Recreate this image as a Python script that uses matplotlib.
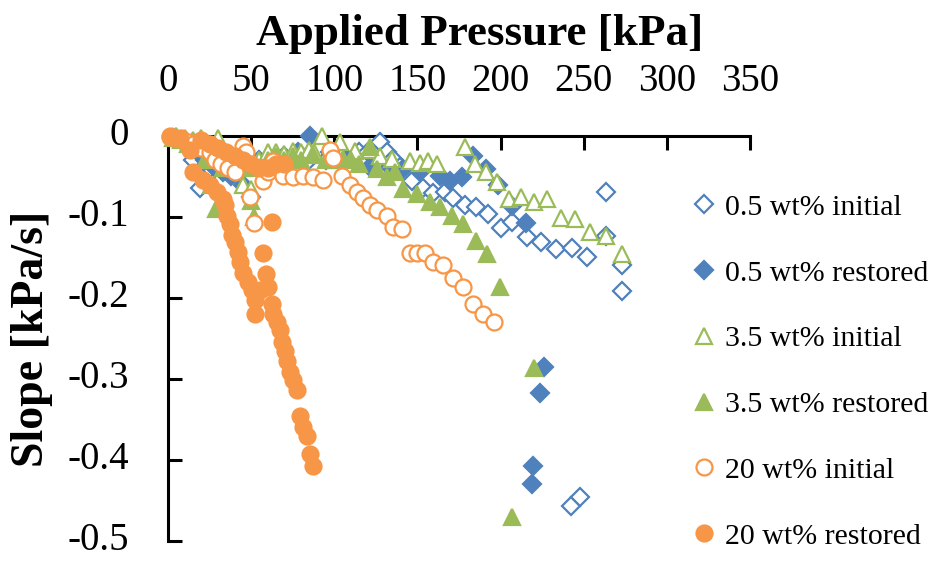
import numpy as np
import matplotlib
matplotlib.use('Agg')
import matplotlib.pyplot as plt

plt.rcParams['font.family'] = ['Liberation Serif', 'DejaVu Serif']
plt.rcParams['axes.unicode_minus'] = False

# ---- data (pressure kPa, slope kPa/s) ----
p05_init_x = [5, 10, 15, 19, 25, 35, 45, 55, 65, 75, 85, 95, 105, 115, 120,
              127.3, 131.5, 135.1, 139.3, 146.5, 153.1, 159.1, 166.3, 171.1, 178.3,
              185.5, 192.7, 200.5, 207.1, 216.1, 224.5, 233.5, 243.1, 252.1, 263.6,
              263.6, 273.2, 273.2, 242.5, 247.9]
p05_init_y = [-0.003, -0.01, -0.03, -0.064, -0.04, -0.035, -0.03, -0.03, -0.03, -0.028,
              -0.03, -0.03, -0.025, -0.02, -0.02,
              -0.007, -0.020, -0.029, -0.038, -0.056, -0.064, -0.070, -0.069, -0.076, -0.085,
              -0.088, -0.096, -0.113, -0.106, -0.125, -0.131, -0.140, -0.138, -0.149, -0.069,
              -0.124, -0.159, -0.191, -0.457, -0.446]

p05_rest_x = [3, 8, 12, 18, 22, 28, 33, 38, 45, 50, 55, 62, 70, 78, 85.2,
              97.3, 107.5, 121.3, 133.3, 141.1, 151.3, 163.3, 169.3, 176.5, 183.1,
              191.5, 198.7, 207.1, 215.5, 226.3, 223.9, 219.7, 219.1]
p05_rest_y = [-0.002, -0.005, -0.01, -0.02, -0.03, -0.04, -0.045, -0.05, -0.06, -0.075,
              -0.035, -0.03, -0.025, -0.02, 0.0,
              -0.020, -0.029, -0.038, -0.038, -0.041, -0.045, -0.050, -0.056, -0.051, -0.025,
              -0.041, -0.060, -0.087, -0.108, -0.285, -0.317, -0.408, -0.430]

p35_init_x = [5, 10, 15, 20, 25, 30, 35, 40, 45, 50, 55, 60, 65, 70, 75, 80, 85, 88,
              92.5, 103.3, 112.3, 121.3, 127.3, 134.5, 145.3, 151.3, 156.1, 161.5,
              178.3, 184.3, 191.5, 198.1, 205.3, 212.5, 220.3, 228.1, 236.5, 244.9,
              253.9, 263.5, 273.2]
p35_init_y = [0.0, -0.003, -0.005, -0.002, -0.01, -0.003, -0.02, -0.04, -0.06, -0.065,
              -0.03, -0.02, -0.02, -0.022, -0.018, -0.02, -0.017, -0.02,
              0.0, -0.008, -0.019, -0.017, -0.025, -0.029, -0.031, -0.033, -0.031, -0.035,
              -0.014, -0.035, -0.044, -0.057, -0.078, -0.075, -0.081, -0.078, -0.101, -0.103,
              -0.119, -0.124, -0.146]

p35_rest_x = [3, 8, 12, 18, 22, 26, 29, 33, 38, 45, 50, 52, 55, 60, 65, 70, 75, 80,
              87, 95, 100, 105, 110, 115, 121.3, 125.5, 131.5, 136.3, 141.1, 149.5,
              157.3, 163.3, 170.5, 177.1, 185.5, 192.1, 199.9, 220.3, 207.1]
p35_rest_y = [-0.002, -0.005, -0.01, -0.015, -0.03, -0.06, -0.09, -0.04, -0.03, -0.04,
              -0.08, -0.1, -0.04, -0.03, -0.025, -0.03, -0.025, -0.03,
              -0.023, -0.03, -0.03, -0.028, -0.03, -0.035, -0.014, -0.041, -0.051, -0.045,
              -0.066, -0.072, -0.082, -0.088, -0.099, -0.109, -0.130, -0.146, -0.186,
              -0.286, -0.470]

p20_init_x = [1, 5, 8, 12, 15, 20, 25, 28, 32, 36, 40, 45, 47, 49, 52, 55, 57, 60, 63,
              66, 69, 75, 81, 87, 93.1, 97.3, 99.1, 104.5, 109.3, 113.5, 117.1, 121.3,
              125.5, 131.5, 135.1, 140.5, 145.3, 149.5, 154.3, 159.1, 165.1, 171.1,
              177.1, 183.1, 189.7, 196.3]
p20_init_y = [0.0, -0.002, -0.003, -0.008, -0.01, -0.015, -0.02, -0.03, -0.035, -0.04,
              -0.045, -0.012, -0.02, -0.075, -0.107, -0.04, -0.056, -0.045, -0.031,
              -0.04, -0.050, -0.051, -0.050, -0.051, -0.054, -0.017, -0.027, -0.050,
              -0.060, -0.069, -0.076, -0.085, -0.091, -0.099, -0.112, -0.115, -0.144,
              -0.144, -0.144, -0.155, -0.159, -0.175, -0.187, -0.208, -0.220, -0.230]

p20_rest_x = [1.2, 7.2, 13.2, 20, 25, 30, 35, 40, 45, 50, 55, 60, 65, 70,
              15.0, 21.0, 25.2, 29.4, 33.0, 34.2, 35.4, 37.2, 38.4, 40.2, 42.0, 43.2,
              45.0, 48.0, 50.4, 52.2, 52.2, 55.2, 57.0, 58.8, 60.0, 62.4, 62.4, 63.0,
              65.4, 67.2, 68.4, 70.2, 71.4, 73.2, 75.0, 77.4, 79.2, 81.0, 83.4, 85.2, 87.1]
p20_rest_y = [-0.001, -0.004, -0.017, -0.005, -0.01, -0.015, -0.02, -0.025, -0.03,
              -0.035, -0.04, -0.04, -0.035, -0.035,
              -0.045, -0.054, -0.060, -0.069, -0.078, -0.085, -0.099, -0.109, -0.122,
              -0.131, -0.143, -0.155, -0.169, -0.180, -0.190, -0.202, -0.220, -0.190,
              -0.144, -0.170, -0.186, -0.106, -0.208, -0.220, -0.230, -0.239, -0.254,
              -0.266, -0.278, -0.291, -0.301, -0.313, -0.346, -0.359, -0.371, -0.393,
              -0.408]

series_labels = ['0.5 wt% initial', '0.5 wt% restored', '3.5 wt% initial',
                 '3.5 wt% restored', '20 wt% initial', '20 wt% restored']
x_ticks = [0, 50, 100, 150, 200, 250, 300, 350]
y_ticks = [0, -0.1, -0.2, -0.3, -0.4, -0.5]
y_tick_labels = ['0', '-0.1', '-0.2', '-0.3', '-0.4', '-0.5']

blue, green, orange = '#4F81BD', '#9BBB59', '#F79646'

fig = plt.figure(figsize=(9.35, 5.61), dpi=100)
ax = fig.add_axes([0.1797, 0.0357, 0.6225, 0.7219])

styles = [
    (p05_init_x, p05_init_y, 'D', 9.0, 'white', blue),
    (p05_rest_x, p05_rest_y, 'D', 9.5, blue, blue),
    (p35_init_x, p35_init_y, '^', 11.5, 'white', green),
    (p35_rest_x, p35_rest_y, '^', 11.5, green, green),
    (p20_init_x, p20_init_y, 'o', 11.5, 'white', orange),
    (p20_rest_x, p20_rest_y, 'o', 11.5, orange, orange),
]
for i, (xs, ys, m, ms, fc, ec) in enumerate(styles):
    ax.plot(xs, ys, linestyle='none', marker=m, markersize=ms,
            markerfacecolor=fc, markeredgecolor=ec, markeredgewidth=1.6,
            label=series_labels[i], clip_on=False, zorder=3 + i)

ax.set_xlim(0, 350)
ax.set_ylim(-0.5, 0)
ax.set_xticks(x_ticks)
ax.set_yticks(y_ticks)
ax.set_yticklabels(y_tick_labels, va='center')

ax.xaxis.tick_top()
ax.xaxis.set_label_position('top')
for s in ['right', 'bottom']:
    ax.spines[s].set_visible(False)
for s in ['top', 'left']:
    ax.spines[s].set_linewidth(2.2)
    ax.spines[s].set_zorder(2)
ax.tick_params(axis='both', direction='in', length=10, width=2.2,
               labelsize=28, pad=28)
ax.tick_params(axis='x', pad=26)

ax.set_xlabel('Applied Pressure [kPa]', fontsize=32.5, fontweight='bold')
ax.xaxis.set_label_coords(0.536, 1.224)
ax.set_ylabel('Slope [kPa/s]', fontsize=33, fontweight='bold')
ax.yaxis.set_label_coords(-0.197, 0.5)

leg = fig.legend(loc='upper left', bbox_to_anchor=(692 / 935, 1 - 194 / 561),
                 frameon=False, fontsize=21.5, numpoints=1, handlelength=0.8,
                 handletextpad=0.3, labelspacing=1.3, borderpad=0,
                 borderaxespad=0)

fig.savefig('out.png', dpi=100)
